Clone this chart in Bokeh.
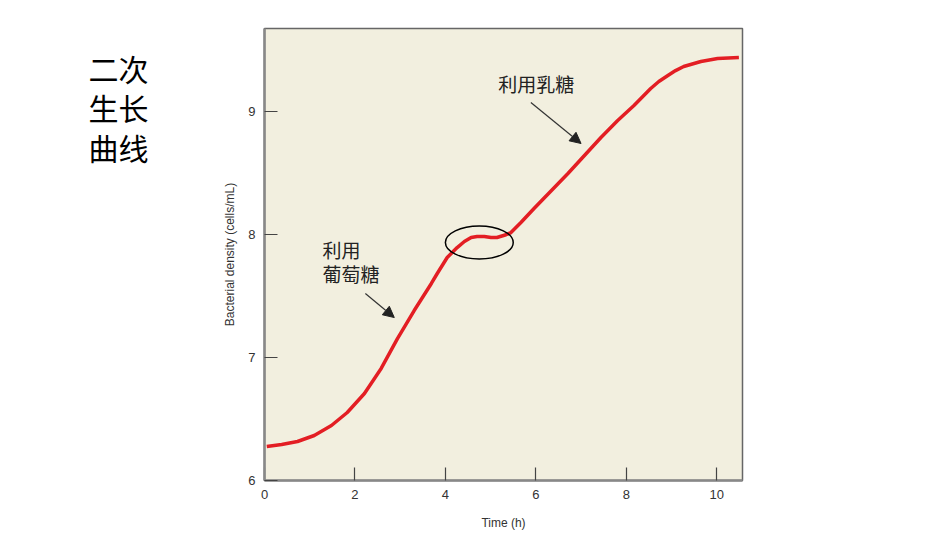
from bokeh.plotting import figure
from bokeh.layouts import row
from bokeh.models import Range1d, FixedTicker, Label, Arrow, NormalHead
from bokeh.core.properties import value
from bokeh.embed import file_html
from bokeh.resources import INLINE

# Data
time_h = [0.05, 0.38, 0.73, 1.10, 1.48, 1.83, 2.21, 2.58, 2.94, 3.31, 3.69, 3.82,
          4.04, 4.26, 4.42, 4.57, 4.70, 4.86, 5.01, 5.14, 5.34, 5.45, 5.67, 5.96,
          6.71, 7.44, 7.81, 8.17, 8.54, 8.72, 8.92, 9.09, 9.27, 9.65, 10.02, 10.49]
density = [6.276, 6.293, 6.317, 6.366, 6.447, 6.553, 6.707, 6.911, 7.154, 7.382, 7.602, 7.683,
           7.813, 7.894, 7.943, 7.976, 7.984, 7.984, 7.976, 7.976, 7.998, 8.016, 8.098, 8.211,
           8.496, 8.789, 8.927, 9.049, 9.187, 9.244, 9.293, 9.333, 9.366, 9.407, 9.431, 9.439]
x_ticks = [0, 2, 4, 6, 8, 10]
y_ticks = [6, 7, 8, 9]
title_lines = ["二次", "生长", "曲线"]
glucose_label = ["利用", "葡萄糖"]
lactose_label = "利用乳糖"

cjk = "Noto Sans CJK SC"

# Left panel holding the slide title (its frame is aligned with the chart's frame: px 28..480)
TW = 220
t = figure(width=TW, height=535, output_backend="svg", toolbar_location=None,
           x_range=Range1d(0, TW), y_range=Range1d(480, 28),
           x_axis_location=None, y_axis_location=None,
           min_border_left=0, min_border_right=0, min_border_top=28, min_border_bottom=55)
t.title = None
t.grid.visible = False
t.outline_line_color = None
t.background_fill_color = "white"
t.text(x=[88, 88, 88], y=[67, 106, 146], text=title_lines, text_font=value(cjk),
       text_font_size="30px", text_baseline="middle", text_align="left", text_color="black")

p = figure(width=950 - TW, height=535, output_backend="svg", toolbar_location=None,
           x_range=Range1d(0, 10.57), y_range=Range1d(6, 9.675),
           min_border_left=263 - TW, min_border_right=208, min_border_top=28, min_border_bottom=55)
p.background_fill_color = "#f2efdf"
p.border_fill_color = "white"
p.outline_line_color = "#666666"
p.outline_line_width = 1.5
p.xgrid.visible = False
p.ygrid.visible = False

for ax, ticks in ((p.xaxis[0], x_ticks), (p.yaxis[0], y_ticks)):
    ax.ticker = FixedTicker(ticks=ticks)
    ax.minor_tick_line_color = None
    ax.major_tick_in = 13
    ax.major_tick_out = 0
    ax.major_tick_line_color = "#444444"
    ax.major_tick_line_width = 1.2
    ax.axis_line_color = "#888888"
    ax.axis_line_width = 2.5
    ax.major_label_text_font = "Liberation Sans"
    ax.major_label_text_font_size = "13px"
    ax.major_label_text_color = "#333333"
    ax.axis_label_text_font = "Liberation Sans"
    ax.axis_label_text_font_size = "12px"
    ax.axis_label_text_font_style = "normal"
    ax.axis_label_text_color = "#333333"
    ax.major_label_standoff = 9

p.xaxis.axis_label = "Time (h)"
p.yaxis.axis_label = "Bacterial density (cells/mL)"
p.xaxis.axis_label_standoff = 14
p.yaxis.axis_label_standoff = 8

p.line(time_h, density, line_color="#e31e24", line_width=3.5, line_join="round")

p.ellipse(x=[4.75], y=[7.935], width=[1.50], height=[0.268],
          fill_alpha=0, line_color="black", line_width=1.5)

for xs, ys, xe, ye in ((5.89, 9.073, 7.00, 8.740), (2.23, 7.520, 2.87, 7.325)):
    p.add_layout(Arrow(end=NormalHead(size=11, fill_color="#222222", line_color="#222222"),
                       x_start=xs, y_start=ys, x_end=xe, y_end=ye,
                       line_color="#333333", line_width=1.2))

p.add_layout(Label(x=5.17, y=9.228, text=lactose_label, text_font=cjk,
                   text_font_size="19px", text_baseline="middle", text_color="#222222"))
for i, s in enumerate(glucose_label):
    p.add_layout(Label(x=1.28, y=7.882 - i * 0.199, text=s, text_font=cjk,
                       text_font_size="19px", text_baseline="middle", text_color="#222222"))

layout = row(t, p, spacing=0)
open("out.html", "w").write(file_html(layout, INLINE))
